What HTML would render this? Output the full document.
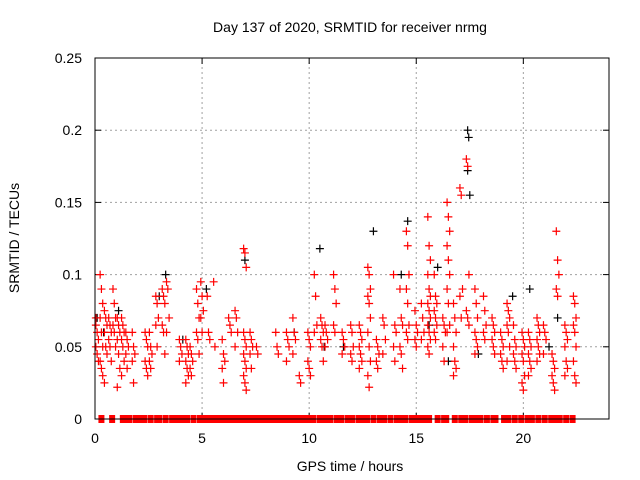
<!DOCTYPE html>
<html><head><meta charset="utf-8"><style>
html,body{margin:0;padding:0;background:#fff;}
svg{display:block;font-family:"Liberation Sans",sans-serif;}
</style></head><body>
<svg id="chart" width="640" height="480" viewBox="0 0 640 480" xmlns="http://www.w3.org/2000/svg">
<rect width="640" height="480" fill="#fff"/>
<text x="350" y="32" font-size="14" text-anchor="middle">Day 137 of 2020, SRMTID for receiver nrmg</text>
<text transform="translate(19,238) rotate(-90)" font-size="14" text-anchor="middle">SRMTID / TECUs</text>
<text x="350" y="471" font-size="14" text-anchor="middle">GPS time / hours</text>
<g id="grid"></g>
<g id="axes"></g>
<g id="black-series"></g>
<g id="red-series"></g>
<g id="zero-series"></g>
<rect x="95" y="58" width="514" height="361" fill="none" stroke="#000" stroke-width="1"/>
</svg>
<script>
const xTicks=[0,5,10,15,20];
const yTicks=[0,0.05,0.1,0.15,0.2,0.25];
const yTickLabels=["0","0.05","0.1","0.15","0.2","0.25"];
const redHours=[0.1,0.3,0.5,0.7,0.9,1.1,1.3,1.5,1.8,2.4,2.6,2.9,3.2,3.4,4.0,4.3,4.5,4.8,5.0,5.3,5.6,6.0,6.3,6.6,7.0,7.3,7.6,8.5,9.0,9.3,9.6,10.0,10.3,10.6,10.8,11.2,11.6,12.0,12.4,12.8,13.2,13.5,14.0,14.3,14.6,15.0,15.3,15.6,15.9,16.3,16.5,16.8,17.1,17.4,17.8,18.2,18.6,19.0,19.3,19.6,20.0,20.3,20.7,21.0,21.4,21.6,22.0,22.4];
const redValues=[
[.065,.06,.055,.05,.045,.04,.07],[.1,.09,.08,.07,.06,.05,.04,.035,.03],[.075,.07,.065,.06,.05,.045,.025],
[.07,.065,.06,.055,.05,.04],[.09,.08,.07,.065,.06,.05],[.07,.065,.06,.055,.045,.035,.022],
[.07,.065,.06,.055,.05,.04,.03],[.06,.055,.05,.045,.035],[.06,.05,.045,.04,.025],
[.06,.055,.05,.04,.035,.03],[.06,.05,.045,.04,.035],[.085,.08,.07,.065,.05],
[.09,.085,.08,.065,.06,.045],[.095,.09,.07,.06],[.055,.05,.045,.04],
[.055,.05,.045,.04,.035,.03,.025],[.05,.045,.04,.035,.03],[.09,.08,.07,.06,.055,.045],
[.095,.085,.075,.07,.06],[.085,.06,.055],[.095,.05],[.055,.045,.04,.035,.025],
[.07,.065,.06],[.075,.07,.06,.05],[.118,.115,.105,.06,.055,.05,.045,.04,.035,.03,.025,.02],
[.06,.055,.05,.045,.035],[.05,.045],[.06,.05,.045],[.06,.055,.05,.04],[.07,.06,.055,.045],
[.03,.025],[.06,.055,.05,.04,.035,.03],[.1,.085,.065,.06],[.07,.065,.06,.055,.05,.04],
[.065,.06,.055,.05],[.1,.09,.08,.065,.06],[.06,.055,.05,.045],[.065,.06,.05,.045,.04],
[.065,.06,.055,.05,.045,.04,.035],[.105,.1,.09,.085,.08,.07,.06,.05,.04,.03,.022],
[.055,.05,.045,.04,.035],[.07,.065,.055,.045],[.1,.065,.06,.05,.04],[.09,.07,.065,.05,.045,.035],
[.13,.12,.1,.09,.08,.065,.06,.055],[.075,.065,.06,.055,.05],[.08,.07,.06,.055],
[.14,.12,.11,.1,.09,.085,.08,.075,.07,.065,.06,.055,.05,.045],[.1,.085,.08,.075,.07,.065,.06,.055],
[.07,.065,.06,.05,.04],[.15,.14,.13,.12,.11,.1,.09,.08,.065,.06],[.08,.07,.06,.05,.04,.035,.03],
[.16,.155,.09,.085,.07],[.18,.175,.1,.075,.07,.065],[.09,.08,.07,.06,.055,.05,.045],
[.085,.075,.065,.06,.055],[.07,.065,.06,.055,.05,.045],[.06,.055,.05,.045,.04,.035],
[.08,.075,.07,.065,.06,.05,.04],[.065,.055,.05,.045,.04,.035],[.06,.055,.05,.045,.04,.03,.025,.02],
[.06,.055,.05,.045,.04,.035,.03],[.07,.065,.06,.055,.05,.045,.04],[.065,.06,.055,.045],
[.045,.04,.035,.03,.025,.02],[.13,.11,.1,.09,.085],[.065,.06,.055,.05,.04,.035,.03],
[.085,.08,.07,.065,.06,.05,.04,.03,.025]];
const blackHours=[0.1,0.4,1.1,3.3,3.0,4.1,5.2,7.0,9.3,10.5,10.7,11.6,13.0,14.6,14.3,15.6,16.0,16.5,17.4,17.45,17.5,17.4,17.9,19.5,20.3,21.6,21.2];
const blackValues=[.07,.06,.075,.1,.085,.055,.09,.11,.06,.118,.05,.05,.13,.137,.1,.065,.105,.04,.2,.195,.155,.172,.045,.085,.09,.07,.05];
const zeroHours=[0.3,0.8,1.3,1.4,1.6,1.9,2.0,2.1,2.3,2.6,2.9,3.0,3.3,3.6,3.7,3.9,4.0,4.1,4.3,4.6,4.9,5.1,5.2,5.3,5.4,5.5,5.7,5.9,6.0,6.2,6.3,6.5,6.6,6.8,6.9,7.0,7.2,7.4,7.6,7.7,7.9,8.0,8.2,8.3,8.5,8.6,8.8,8.9,9.1,9.2,9.4,9.6,9.7,9.9,10.0,10.2,10.5,10.7,10.8,11.0,11.3,11.5,11.8,12.0,12.3,12.5,12.7,13.0,13.3,13.5,13.8,14.1,14.3,14.5,14.8,15.0,15.2,15.4,15.6,16.0,16.3,16.4,16.8,17.1,17.3,17.6,17.8,18.0,18.3,18.6,18.7,19.1,19.3,19.6,19.9,20.2,20.4,20.7,21.0,21.3,21.5,21.7,22.0,22.3];

const NS="http://www.w3.org/2000/svg";
const X0=95,X1=609,Y0=419,Y1=58,XMAX=24,YMAX=0.25;
function xs(t){return X0+(X1-X0)*t/XMAX;}
function ys(v){return Y0-(Y0-Y1)*v/YMAX;}
function mk(tag,attrs,parent){const e=document.createElementNS(NS,tag);for(const k in attrs)e.setAttribute(k,attrs[k]);parent.appendChild(e);return e;}
const grid=document.getElementById('grid'),axes=document.getElementById('axes');
xTicks.forEach((t,i)=>{
  const x=xs(t);
  if(t>0){const g=mk('line',{x1:x,y1:Y0,x2:x,y2:Y1,stroke:'#a0a0a0','stroke-dasharray':'2,3'},grid);
  
  }
  mk('line',{x1:x,y1:Y0,x2:x,y2:Y0-6,stroke:'#000'},axes);
  mk('line',{x1:x,y1:Y1,x2:x,y2:Y1+6,stroke:'#000'},axes);
  const l=mk('text',{x:x,y:Y0+24,'font-size':14,'text-anchor':'middle'},axes);
  l.textContent=String(t);
  
  
});
yTicks.forEach((v,i)=>{
  const y=ys(v);
  if(v>0&&v<YMAX){const g=mk('line',{x1:X0,y1:y,x2:X1,y2:y,stroke:'#a0a0a0','stroke-dasharray':'2,3'},grid);
  
  }
  mk('line',{x1:X0,y1:y,x2:X0+6,y2:y,stroke:'#000'},axes);
  mk('line',{x1:X1,y1:y,x2:X1-6,y2:y,stroke:'#000'},axes);
  const l=mk('text',{x:X0-13,y:y+5,'font-size':14,'text-anchor':'end'},axes);
  l.textContent=yTickLabels[i];
  
  
});
function plus(parent,t,v,color){
  const x=xs(t),y=ys(v);
  const p=mk('path',{d:`M${x-4} ${y}H${x+4}M${x} ${y-4}V${y+4}`,stroke:color,'stroke-width':1.2,fill:'none'},parent);
  
  
}
const bs=document.getElementById('black-series');
blackHours.forEach((t,i)=>plus(bs,t,blackValues[i],'#000'));
const rs=document.getElementById('red-series');
redHours.forEach((t,i)=>redValues[i].forEach((v,j)=>plus(rs,t+((j%3)-1)*0.06,v,'#f00')));
const zs=document.getElementById('zero-series');
zeroHours.forEach(t=>{
  const x=xs(t);
  const r=mk('rect',{x:x-3,y:Y0-4,width:6,height:8,fill:'#f00'},zs);
  
  
});
</script>
</body></html>
